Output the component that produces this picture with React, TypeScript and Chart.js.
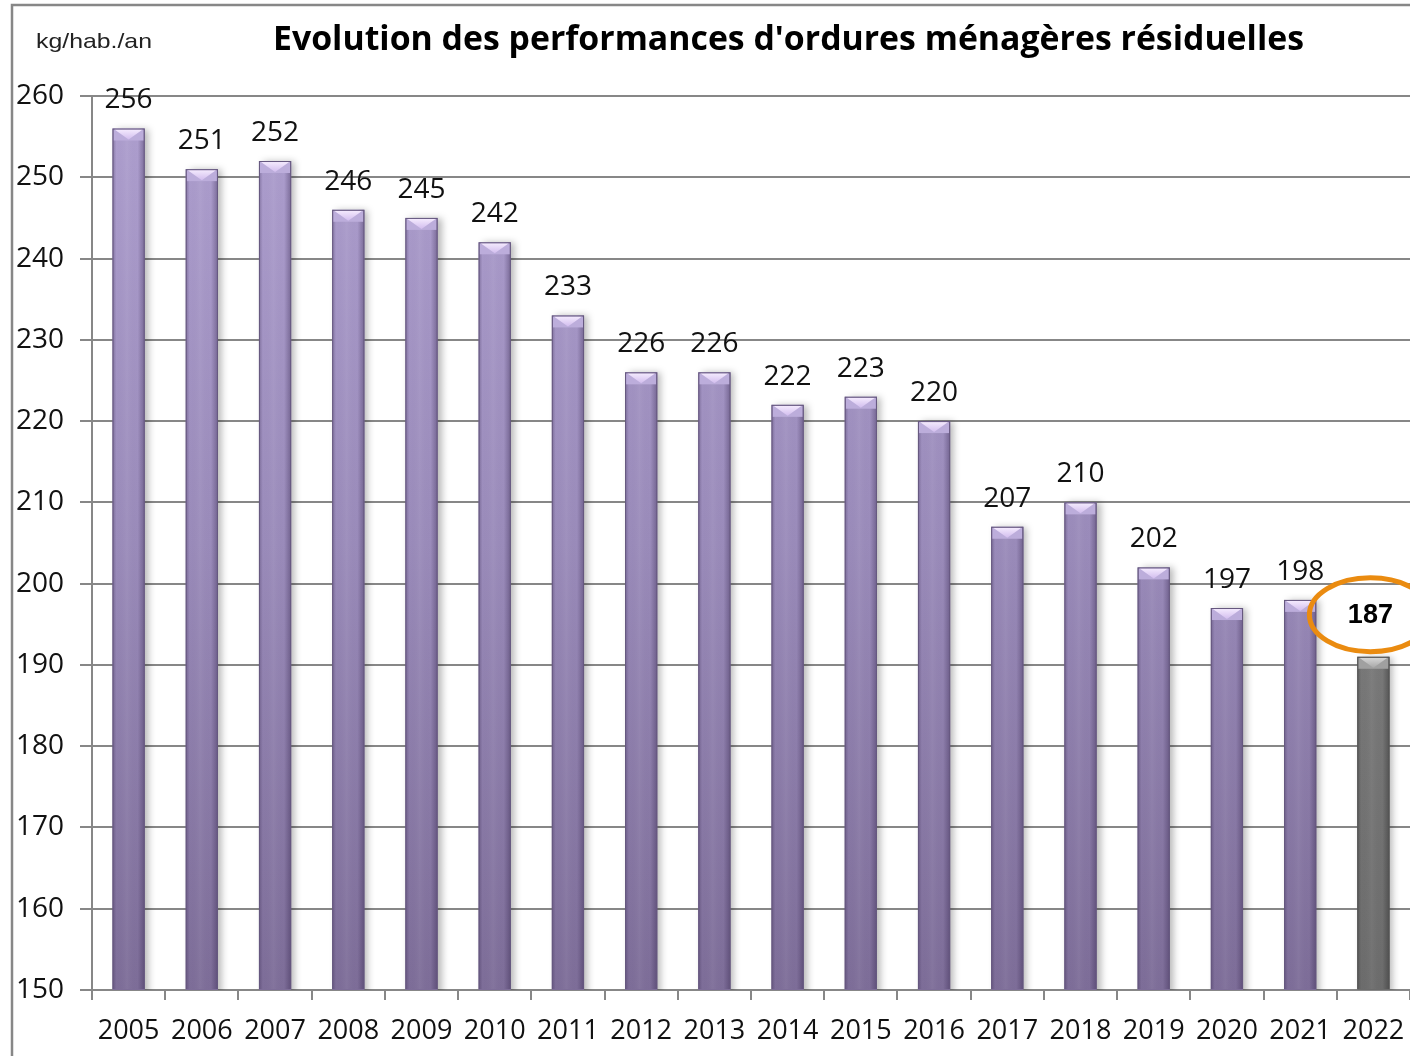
import React, { useEffect, useRef } from "react";
import { Chart, registerables } from "chart.js";

Chart.register(...registerables);

// ---- data ----
const years = [
  "2005", "2006", "2007", "2008", "2009", "2010", "2011", "2012", "2013",
  "2014", "2015", "2016", "2017", "2018", "2019", "2020", "2021", "2022",
];
const values = [256, 251, 252, 246, 245, 242, 233, 226, 226, 222, 223, 220, 207, 210, 202, 197, 198, 191];
const valueLabels = [
  "256", "251", "252", "246", "245", "242", "233", "226", "226",
  "222", "223", "220", "207", "210", "202", "197", "198", "187",
];
const yMin = 150;
const yMax = 260;
const yStep = 10;
const TITLE = "Evolution des performances d'ordures ménagères résiduelles";
const UNIT = "kg/hab./an";

const GRID = "#878787";
const TXT = "#111111";
const FONT = "'Open Sans'";

const framePlugin = {
  id: "frameAndTitle",
  beforeDraw(chart: any) {
    const { ctx, width, height } = chart;
    ctx.save();
    ctx.fillStyle = "#ffffff";
    ctx.fillRect(0, 0, width, height);
    ctx.strokeStyle = GRID;
    ctx.lineWidth = 2.5;
    ctx.beginPath();
    ctx.moveTo(12, height + 10);
    ctx.lineTo(12, 5);
    ctx.lineTo(width + 10, 5);
    ctx.stroke();

    // title
    ctx.fillStyle = "#000";
    ctx.textBaseline = "alphabetic";
    ctx.textAlign = "left";
    ctx.font = `bold 34px ${FONT}`;
    const tw = ctx.measureText(TITLE).width;
    ctx.save();
    ctx.translate(273, 50);
    ctx.scale(1031 / tw, 1);
    ctx.fillText(TITLE, 0, 0);
    ctx.restore();

    // unit
    ctx.fillStyle = "#222";
    ctx.font = "21px 'Liberation Sans'";
    const uw = ctx.measureText(UNIT).width;
    ctx.save();
    ctx.translate(36, 48);
    ctx.scale(116 / uw, 1);
    ctx.fillText(UNIT, 0, 0);
    ctx.restore();
    ctx.restore();
  },
};

const shadowPlugin = {
  id: "barShadow",
  beforeDatasetsDraw(chart: any) {
    const ctx = chart.ctx;
    ctx.save();
    ctx.shadowColor = "rgba(0,0,0,0.28)";
    ctx.shadowBlur = 7;
    ctx.shadowOffsetX = 4;
    ctx.shadowOffsetY = 0;
  },
  afterDatasetsDraw(chart: any) {
    chart.ctx.restore();
  },
};

const overlayPlugin = {
  id: "barOverlay",
  afterDatasetsDraw(chart: any) {
    const ctx = chart.ctx;
    const area = chart.chartArea;
    const meta = chart.getDatasetMeta(0);
    const last = values.length - 1;
    meta.data.forEach((bar: any, i: number) => {
      const { x, y, width } = bar.getProps(["x", "y", "width"], true);
      const base = area.bottom;
      const l = x - width / 2;
      const r = x + width / 2;
      const gray = i === last;
      ctx.save();
      ctx.beginPath();
      ctx.rect(area.left, area.top - 2, area.right - area.left, area.bottom - area.top + 1);
      ctx.clip();
      // side shading for a rounded look
      const hg = ctx.createLinearGradient(l, 0, r, 0);
      const dark = gray ? "30,30,30" : "45,30,70";
      hg.addColorStop(0, `rgba(${dark},0.30)`);
      hg.addColorStop(0.12, `rgba(${dark},0)`);
      hg.addColorStop(0.45, "rgba(255,255,255,0.05)");
      hg.addColorStop(0.78, `rgba(${dark},0)`);
      hg.addColorStop(1, `rgba(${dark},0.38)`);
      ctx.fillStyle = hg;
      ctx.fillRect(l, y, width, base - y);

      // bevelled top cap
      const capH = 11;
      ctx.fillStyle = gray ? "#a0a0a0" : "#bcaddb";
      ctx.fillRect(l + 1, y + 1, width - 2, capH);
      const tg = ctx.createLinearGradient(0, y, 0, y + capH);
      tg.addColorStop(0, gray ? "#dadada" : "#f7eeff");
      tg.addColorStop(1, gray ? "#a8a8a8" : "#d2bdee");
      ctx.fillStyle = tg;
      ctx.beginPath();
      ctx.moveTo(l + 2, y + 1);
      ctx.lineTo(r - 2, y + 1);
      ctx.lineTo(x, y + capH);
      ctx.closePath();
      ctx.fill();
      ctx.strokeStyle = gray ? "#555" : "#66587f";
      ctx.lineWidth = 1;
      ctx.strokeRect(l + 0.5, y + 0.5, width - 1, base - y - 1);
      ctx.restore();

      // labels
      ctx.save();
      ctx.textAlign = "center";
      ctx.textBaseline = "middle";
      if (i < last) {
        ctx.fillStyle = TXT;
        ctx.font = `28px ${FONT}`;
        ctx.fillText(valueLabels[i], x, y - 28);
      } else {
        const cx = x - 3;
        const cy = y - 42;
        ctx.strokeStyle = "#ea8b10";
        ctx.lineWidth = 5;
        ctx.beginPath();
        ctx.ellipse(cx, cy, 61, 37, 0, 0, Math.PI * 2);
        ctx.stroke();
        ctx.fillStyle = "#000";
        ctx.font = "bold 27px 'Liberation Sans'";
        ctx.fillText(valueLabels[i], cx, cy + 1);
      }
      ctx.restore();
    });
  },
};

export default function App() {
  const ref = useRef<HTMLCanvasElement | null>(null);

  useEffect(() => {
    if (!ref.current) return;
    const last = values.length - 1;
    const chart = new Chart(ref.current, {
      type: "bar",
      data: {
        labels: years,
        datasets: [
          {
            data: values,
            backgroundColor: (c: any) => {
              const ch = c.chart;
              const area = ch.chartArea;
              if (!area) return "#9a8bb8";
              const g = ch.ctx.createLinearGradient(0, area.top, 0, area.bottom);
              if (c.dataIndex === last) {
                g.addColorStop(0, "#8c8c8c");
                g.addColorStop(1, "#6c6c6c");
              } else {
                g.addColorStop(0, "#ae9fcf");
                g.addColorStop(0.5, "#9a8bba");
                g.addColorStop(1, "#7d6d98");
              }
              return g;
            },
            borderWidth: 0,
            barPercentage: 0.44,
            categoryPercentage: 1,
          },
        ],
      },
      options: {
        animation: false,
        responsive: false,
        layout: { padding: { top: 96, left: 0, right: 0, bottom: 0 } },
        plugins: {
          legend: { display: false },
          title: { display: false },
          tooltip: { enabled: false },
        },
        scales: {
          x: {
            grid: {
              drawOnChartArea: false,
              drawTicks: true,
              tickLength: 10,
              color: GRID,
              lineWidth: 2,
              offset: true,
            },
            border: { display: true, color: GRID, width: 2 },
            ticks: {
              font: { family: FONT, size: 27 },
              color: TXT,
              padding: 15,
              maxRotation: 0,
              autoSkip: false,
            },
            afterFit(scale: any) {
              scale.height = 66;
              scale.paddingLeft = 0;
              scale.paddingRight = 0;
            },
          },
          y: {
            min: yMin,
            max: yMax,
            ticks: {
              stepSize: yStep,
              font: { family: FONT, size: 28 },
              color: TXT,
              padding: 16,
            },
            grid: { color: GRID, lineWidth: 2, tickLength: 12 },
            border: { display: true, color: GRID, width: 2 },
            afterFit(scale: any) {
              scale.width = 92;
            },
          },
        },
      },
      plugins: [framePlugin, shadowPlugin, overlayPlugin],
    });
    return () => chart.destroy();
  }, []);

  return (
    <div style={{ position: "absolute", left: 0, top: 0, width: 1410, height: 1056, overflow: "hidden" }}>
      <canvas ref={ref} width={1410} height={1056} style={{ display: "block" }} />
    </div>
  );
}
